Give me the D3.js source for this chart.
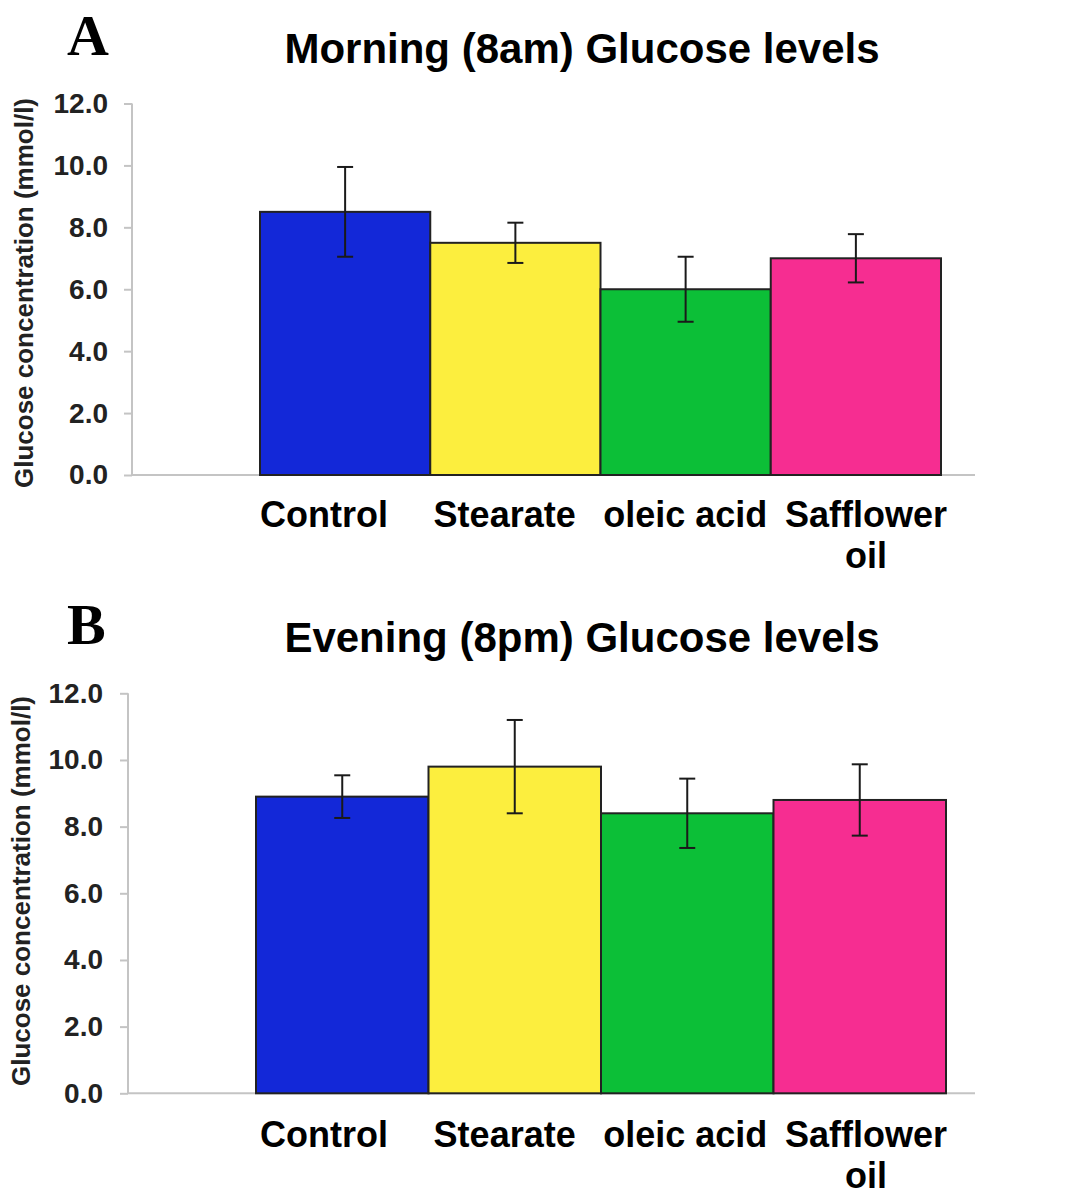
<!DOCTYPE html>
<html>
<head>
<meta charset="utf-8">
<script src="https://cdn.jsdelivr.net/npm/d3@7"></script>
<style>
  body { margin: 0; background: #fff; }
  svg { font-family: "Liberation Sans", Arial, sans-serif; font-weight: bold; }
  .tick text { fill: #222; }
</style>
</head>
<body>
<div id="container"></div>
<script>
// values (mmol/l), error = half length of the SE bar
const categories = ["Control", "Stearate", "oleic acid", "Safflower oil"];
const categoryLines = [["Control"], ["Stearate"], ["oleic acid"], ["Safflower", "oil"]];
const morningMean = [8.5, 7.5, 6.0, 7.0];
const morningErr = [1.45, 0.65, 1.05, 0.78];
const eveningMean = [8.9, 9.8, 8.4, 8.8];
const eveningErr = [0.64, 1.4, 1.04, 1.07];
const yTicks = [0, 2, 4, 6, 8, 10, 12];
const barColors = ["#1328d8", "#fcee3e", "#0cbf37", "#f62d91"];

const w = 1074;
const h = 1196;

const panels = [
  {letter: "A", title: "Morning (8am) Glucose levels", mean: morningMean, err: morningErr,
   top: 103.5, base: 475, axisX: 132, barL: 260, barR: 941, tickRight: 108, labelY: 527, ylabY: 293, ylabX: 33},
  {letter: "B", title: "Evening (8pm) Glucose levels", mean: eveningMean, err: eveningErr,
   top: 693.3, base: 1093.3, axisX: 128, barL: 256, barR: 946, tickRight: 103, labelY: 1147, ylabY: 891, ylabX: 30}
];

const svg = d3.select("#container").append("svg")
  .attr("width", w)
  .attr("height", h);

panels.forEach(p => {
  const g = svg.append("g");
  const data = categories.map((c, i) => ({cat: c, lines: categoryLines[i], v: p.mean[i], e: p.err[i], color: barColors[i]}));

  const x = d3.scaleBand().domain(categories).range([p.barL, p.barR]).padding(0);
  const y = d3.scaleLinear().domain([0, 12]).range([p.base, p.top]);
  // labels sit a bit wider apart than the bars in the original
  const xLabel = d3.scalePoint().domain(categories).range([324, 866]);

  // panel letter
  g.append("text")
    .attr("x", 67).attr("y", p.top - 49)
    .style("font-family", "'Liberation Serif', 'Times New Roman', serif")
    .style("font-size", "58px")
    .text(p.letter);

  // title
  g.append("text")
    .attr("x", 582).attr("y", p.top - 41)
    .attr("text-anchor", "middle")
    .style("font-size", "42px")
    .text(p.title);

  // y axis
  const yAxis = d3.axisLeft(y).tickValues(yTicks).tickFormat(d3.format(".1f")).tickSize(8).tickPadding(14);
  const ya = g.append("g")
    .attr("transform", "translate(" + p.axisX + ",0)")
    .call(yAxis);
  ya.select(".domain").attr("stroke", "#c4c4c4").attr("stroke-width", 2).attr("d", "M0," + p.top + "V" + p.base);
  ya.selectAll(".tick line").attr("stroke", "#c4c4c4").attr("stroke-width", 2);
  ya.selectAll(".tick text").style("font-size", "28px").attr("x", p.tickRight - p.axisX);

  // y title
  g.append("text")
    .attr("transform", "translate(" + p.ylabX + "," + p.ylabY + ") rotate(-90)")
    .attr("text-anchor", "middle")
    .style("font-size", "26px")
    .attr("fill", "#222")
    .text("Glucose concentration (mmol/l)");

  // baseline
  g.append("line")
    .attr("x1", p.axisX).attr("x2", 975)
    .attr("y1", y(0)).attr("y2", y(0))
    .attr("stroke", "#c4c4c4").attr("stroke-width", 2);

  // bars
  g.selectAll("rect.bar")
    .data(data)
    .enter()
    .append("rect")
    .attr("class", "bar")
    .attr("x", d => x(d.cat))
    .attr("y", d => y(d.v))
    .attr("width", x.bandwidth())
    .attr("height", d => y(0) - y(d.v))
    .attr("fill", d => d.color)
    .attr("stroke", "#222")
    .attr("stroke-width", 2);

  // error bars
  const cap = 8;
  const eb = g.selectAll("g.err")
    .data(data)
    .enter()
    .append("g")
    .attr("class", "err")
    .attr("stroke", "#1a1a1a")
    .attr("stroke-width", 2);
  eb.append("line")
    .attr("x1", d => x(d.cat) + x.bandwidth() / 2)
    .attr("x2", d => x(d.cat) + x.bandwidth() / 2)
    .attr("y1", d => y(d.v + d.e))
    .attr("y2", d => y(d.v - d.e));
  eb.append("line")
    .attr("x1", d => x(d.cat) + x.bandwidth() / 2 - cap)
    .attr("x2", d => x(d.cat) + x.bandwidth() / 2 + cap)
    .attr("y1", d => y(d.v + d.e))
    .attr("y2", d => y(d.v + d.e));
  eb.append("line")
    .attr("x1", d => x(d.cat) + x.bandwidth() / 2 - cap)
    .attr("x2", d => x(d.cat) + x.bandwidth() / 2 + cap)
    .attr("y1", d => y(d.v - d.e))
    .attr("y2", d => y(d.v - d.e));

  // category labels
  const lab = g.selectAll("text.cat")
    .data(data)
    .enter()
    .append("text")
    .attr("class", "cat")
    .attr("text-anchor", "middle")
    .attr("x", d => xLabel(d.cat))
    .attr("y", p.labelY)
    .style("font-size", "36px");
  lab.selectAll("tspan")
    .data(d => d.lines.map(t => ({t: t, x: xLabel(d.cat)})))
    .enter()
    .append("tspan")
    .attr("x", t => t.x)
    .attr("dy", (t, i) => i === 0 ? 0 : 41)
    .text(t => t.t);
});
</script>
</body>
</html>
